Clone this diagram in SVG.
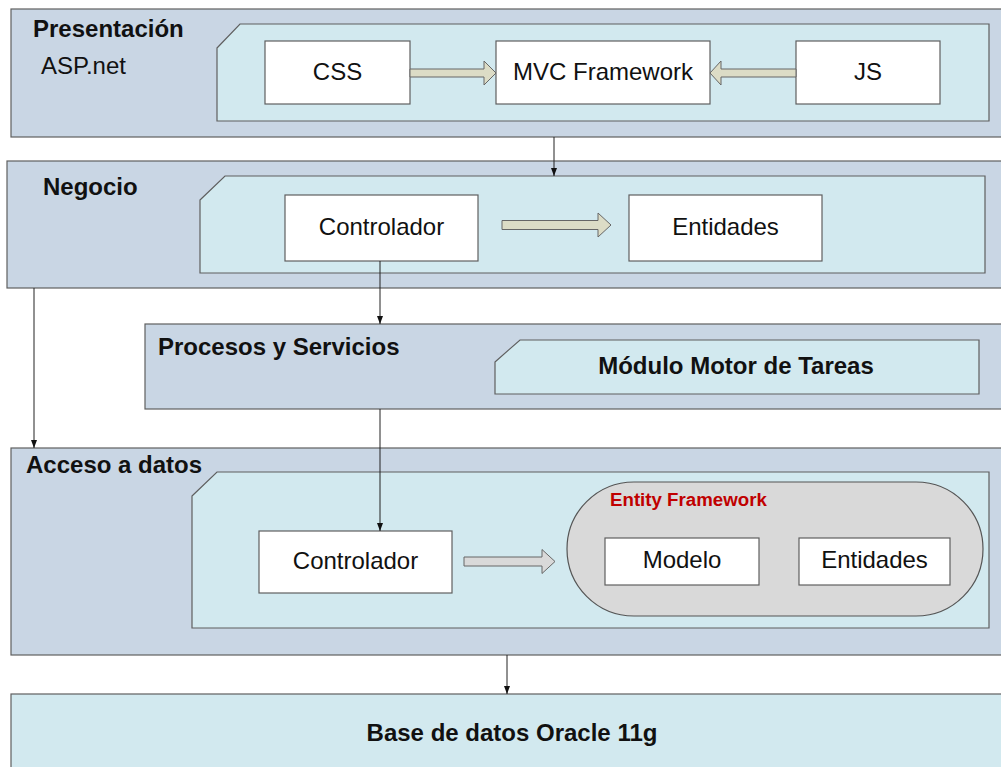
<svg xmlns="http://www.w3.org/2000/svg" width="1001" height="767" viewBox="0 0 1001 767">
<style>
.outer{fill:#c9d6e4;stroke:#5f5f5f;stroke-width:1.2}
.inner{fill:#d2e9ef;stroke:#5f5f5f;stroke-width:1.2}
.box{fill:#ffffff;stroke:#5f5f5f;stroke-width:1.2}
.fat{fill:#dcdcc6;stroke:#666;stroke-width:1}
.fatg{fill:#d9d9d9;stroke:#666;stroke-width:1}
.ef{fill:#d9d9d9;stroke:#555;stroke-width:1.2}
.t{font-family:"Liberation Sans",Arial,sans-serif;font-size:24px;fill:#111}
.b{font-family:"Liberation Sans",Arial,sans-serif;font-size:24px;font-weight:bold;fill:#111}
.c{text-anchor:middle}
.red{font-family:"Liberation Sans",Arial,sans-serif;font-size:18.7px;font-weight:bold;fill:#c00000}
.conn{stroke:#222;stroke-width:1;fill:none;marker-end:url(#ah)}
</style>
<defs>
<marker id="ah" viewBox="0 0 8 8" refX="8" refY="4" markerWidth="8" markerHeight="8" markerUnits="userSpaceOnUse" orient="auto">
<path d="M0,1 L8,4 L0,7 Z" fill="#111"/>
</marker>
</defs>
<rect width="1001" height="767" fill="#ffffff"/>

<g id="presentacion">
<rect class="outer" x="11" y="9" width="995" height="128"/>
<path class="inner" d="M217,48 L240,24 L989,24 L989,121 L217,121 Z"/>
<text class="b" x="33" y="37">Presentación</text>
<text class="t" x="41" y="74">ASP.net</text>
</g>
<g id="css"><rect class="box" x="265" y="41" width="145" height="63"/><text class="t c" x="337.5" y="80">CSS</text></g>
<g id="mvc"><rect class="box" x="496" y="41" width="214" height="63"/><text class="t c" x="603" y="80">MVC Framework</text></g>
<g id="js"><rect class="box" x="796" y="41" width="144" height="63"/><text class="t c" x="868" y="80">JS</text></g>

<g id="negocio">
<rect class="outer" x="7" y="161" width="999" height="127"/>
<path class="inner" d="M200,200 L225,176 L985,176 L985,273 L200,273 Z"/>
<text class="b" x="43" y="195">Negocio</text>
</g>
<g id="controlador-neg"><rect class="box" x="285" y="195" width="193" height="66"/><text class="t c" x="381.5" y="235">Controlador</text></g>
<g id="entidades-neg"><rect class="box" x="629" y="195" width="193" height="66"/><text class="t c" x="725.5" y="235">Entidades</text></g>

<g id="procesos">
<rect class="outer" x="145" y="324" width="861" height="85"/>
<text class="b" x="158" y="355">Procesos y Servicios</text>
</g>
<g id="modulo">
<path class="inner" d="M495,362 L520,340 L979,340 L979,394 L495,394 Z"/>
<text class="b c" x="736" y="374">Módulo Motor de Tareas</text>
</g>

<g id="acceso">
<rect class="outer" x="11" y="448" width="995" height="207"/>
<path class="inner" d="M192,496 L217,472 L989,472 L989,628 L192,628 Z"/>
<text class="b" x="26" y="473">Acceso a datos</text>
</g>
<g id="controlador-acc"><rect class="box" x="259" y="531" width="193" height="62"/><text class="t c" x="355.5" y="569">Controlador</text></g>
<g id="entity-framework">
<rect class="ef" x="567" y="482" width="416" height="134" rx="67" ry="67"/>
<text class="red" x="610" y="506">Entity Framework</text>
</g>
<g id="modelo"><rect class="box" x="605" y="538" width="154" height="47"/><text class="t c" x="682" y="568">Modelo</text></g>
<g id="entidades-acc"><rect class="box" x="799" y="538" width="151" height="47"/><text class="t c" x="874.5" y="568">Entidades</text></g>

<g id="base">
<rect class="inner" x="11" y="694" width="995" height="80"/>
<text class="b c" x="512" y="741">Base de datos Oracle 11g</text>
</g>

<g id="connectors">
<polygon class="fat" points="410,69 484,69 484,61 496,73 484,85 484,77 410,77"/>
<polygon class="fat" points="796,69 721,69 721,61 710,73 721,85 721,77 796,77"/>
<polygon class="fat" points="502,220.5 598,220.5 598,213 611,225 598,237 598,229.5 502,229.5"/>
<polygon class="fatg" points="464,557 542,557 542,549.5 555,561.5 542,573.5 542,566 464,566"/>
<line class="conn" x1="554" y1="137" x2="554" y2="176"/>
<line class="conn" x1="380" y1="261" x2="380" y2="324"/>
<line class="conn" x1="34" y1="288" x2="34" y2="448"/>
<line class="conn" x1="380" y1="409" x2="380" y2="531"/>
<line class="conn" x1="507" y1="655" x2="507" y2="694"/>
</g>
</svg>
